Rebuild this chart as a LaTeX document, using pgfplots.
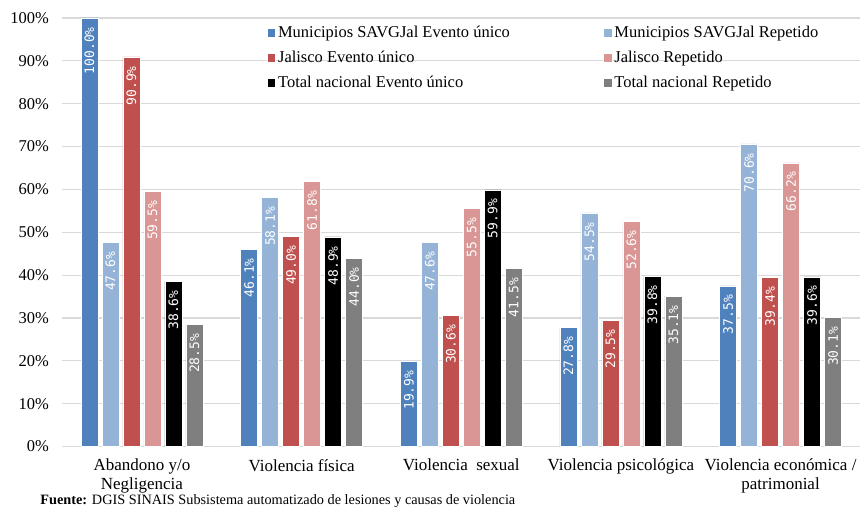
\documentclass[border=0pt]{standalone}
\usepackage{fontspec}
\setmainfont{Liberation Serif}
\newfontfamily\labfont{DejaVu Sans Mono}
\usepackage{pgfplots}
\pgfplotsset{compat=1.18}
\definecolor{cBlue}{HTML}{4F81BD}
\definecolor{cLBlue}{HTML}{95B3D7}
\definecolor{cRed}{HTML}{C0504D}
\definecolor{cPink}{HTML}{D99694}
\definecolor{cGrey}{HTML}{7F7F7F}
\definecolor{cGrid}{HTML}{D9D9D9}
\begin{document}
\begin{tikzpicture}
\begin{axis}[
  scale only axis, width=799pt, height=429pt,
  clip=false,
  ybar=4pt, bar width=17pt,
  xmin=-0.5, xmax=4.5, ymin=0, ymax=100,
  xtick={0,1,2,3,4},
  xticklabels={{Abandono y/o\\Negligencia},{Violencia física},{Violencia\ \ sexual},{Violencia psicológica},{Violencia económica /\\patrimonial}},
  xticklabel style={align=center, font=\fontsize{17}{19}\selectfont, yshift=-9pt},
  ytick={0,10,...,100},
  yticklabel={\pgfmathprintnumber{\tick}\%},
  yticklabel style={font=\fontsize{16.5}{18}\selectfont, inner sep=0pt, text width=49pt, align=right, xshift=-13pt},
  /pgf/number format/assume math mode=true,
  major tick length=0pt,
  axis line style={draw=none},
  ymajorgrids, major grid style={cGrid, line width=1.2pt},
  nodes near coords={\labfont\fontsize{13}{15}\selectfont\pgfmathprintnumber[fixed,fixed zerofill,precision=1]{\pgfplotspointmeta}\%},
  every node near coord/.append style={rotate=90, anchor=east, text=white, inner sep=9pt},
  legend columns=2,
  legend cell align=left,
  legend style={at={(0.252,0.991)}, anchor=north west, draw=none, fill=none,
    font=\fontsize{16.5}{19}\selectfont, row sep=8pt},
  legend image code/.code={\fill[#1] (0pt,-4.5pt) rectangle (9pt,4.5pt);},
]
\addplot[fill=cBlue, draw=white, line width=0.6pt] coordinates {(0,100.0) (1,46.1) (2,19.9) (3,27.8) (4,37.5)};
\addlegendentry{\makebox[323pt][l]{Municipios SAVGJal Evento único}}
\addplot[fill=cLBlue, draw=white, line width=0.6pt] coordinates {(0,47.6) (1,58.1) (2,47.6) (3,54.5) (4,70.6)};
\addlegendentry{Municipios SAVGJal Repetido}
\addplot[fill=cRed, draw=white, line width=0.6pt] coordinates {(0,90.9) (1,49.0) (2,30.6) (3,29.5) (4,39.4)};
\addlegendentry{\makebox[323pt][l]{Jalisco Evento único}}
\addplot[fill=cPink, draw=white, line width=0.6pt] coordinates {(0,59.5) (1,61.8) (2,55.5) (3,52.6) (4,66.2)};
\addlegendentry{Jalisco Repetido}
\addplot[fill=black, draw=white, line width=0.6pt] coordinates {(0,38.6) (1,48.9) (2,59.9) (3,39.8) (4,39.6)};
\addlegendentry{\makebox[323pt][l]{Total nacional Evento único}}
\addplot[fill=cGrey, draw=white, line width=0.6pt] coordinates {(0,28.5) (1,44.0) (2,41.5) (3,35.1) (4,30.1)};
\addlegendentry{Total nacional Repetido}
\node[anchor=base west, font=\fontsize{14.3}{16}\selectfont, inner sep=0pt] at ([xshift=-22pt,yshift=-58pt]rel axis cs:0,0) {\textbf{Fuente:} DGIS SINAIS Subsistema automatizado de lesiones y causas de violencia};
\path ([yshift=18pt]rel axis cs:0,1);
\end{axis}
\end{tikzpicture}
\end{document}
